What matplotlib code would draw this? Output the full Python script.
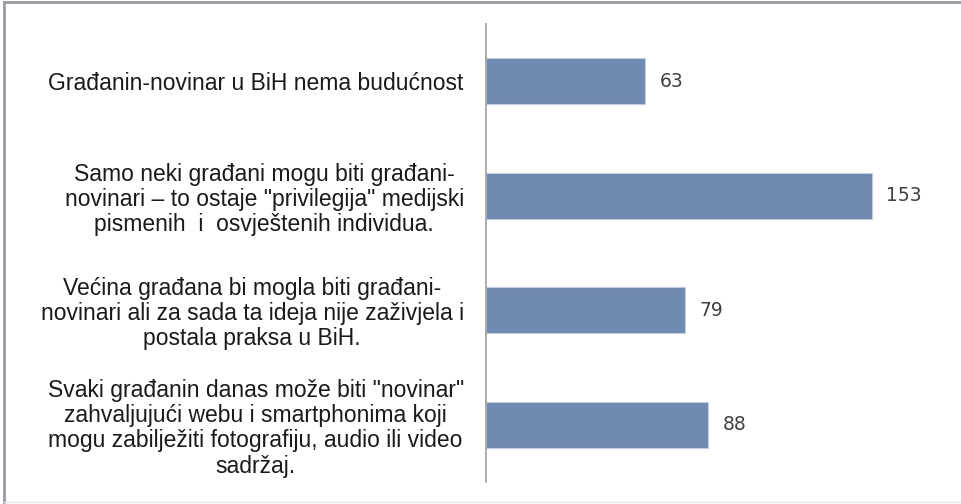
import matplotlib
matplotlib.use('AGG')
import matplotlib.pyplot as plt
from matplotlib.lines import Line2D

# data
categories = ['Građanin-novinar u BiH nema budućnost',
              'Samo neki građani mogu biti građani-\nnovinari – to ostaje "privilegija" medijski\npismenih  i  osvještenih individua.',
              'Većina građana bi mogla biti građani-\nnovinari ali za sada ta ideja nije zaživjela i\npostala praksa u BiH.',
              'Svaki građanin danas može biti "novinar"\nzahvaljujući webu i smartphonima koji\nmogu zabilježiti fotografiju, audio ili video\nsadržaj.']
values = [63, 153, 79, 88]

bar_color = '#7089b0'

fig = plt.figure(figsize=(9.61, 5.04), dpi=100)
ax = fig.add_axes([486/961, 22/504, 454/961, 458/504])

ypos = range(len(values))
ax.barh(ypos, values, height=0.4, color=bar_color, edgecolor='#c3cfe0', linewidth=0.8)
ax.set_ylim(len(values)-0.5, -0.5)
ax.set_xlim(0, 180)

for y, v in zip(ypos, values):
    ax.annotate(str(v), (v, y), xytext=(10.5, 0), textcoords='offset points',
                ha='left', va='center', fontsize=13.5, color='#404040', family='DejaVu Sans')

ax.set_yticks(list(ypos))
ax.set_yticklabels(categories, fontsize=16.5, family='Liberation Sans', color='#1a1a1a',
                   linespacing=1.12)
for t in ax.get_yticklabels():
    t.set_multialignment('center')
ax.tick_params(axis='y', length=0, pad=16)
ax.set_xticks([])

for s in ['top', 'right', 'bottom']:
    ax.spines[s].set_visible(False)
ax.spines['left'].set_color('#a0a0a0')
ax.spines['left'].set_linewidth(1.2)

# outer frame
fig.add_artist(Line2D([4/961, 1], [1-2/504, 1-2/504], color='#9a9aa2', linewidth=2))
fig.add_artist(Line2D([4/961, 4/961], [2/504, 1-2/504], color='#9a9aa2', linewidth=2))
fig.add_artist(Line2D([4/961, 1], [2/504, 2/504], color='#e6e6e6', linewidth=1))

fig.savefig('out.png', dpi=100)
